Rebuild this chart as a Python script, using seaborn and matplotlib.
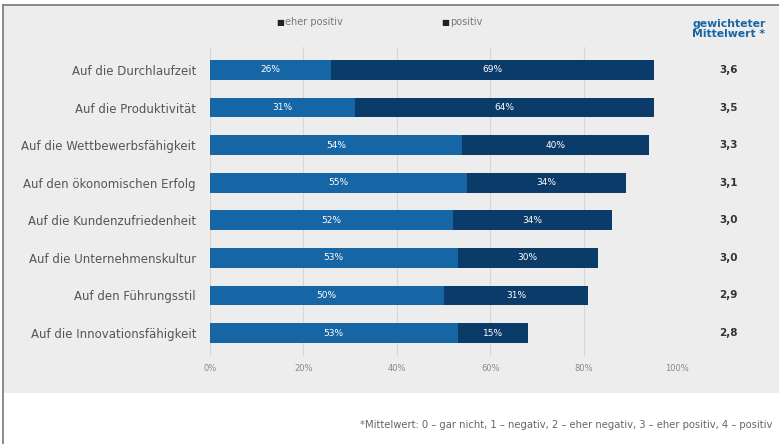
import matplotlib
matplotlib.use("Agg")
import matplotlib.pyplot as plt
import seaborn as sns
import pandas as pd
from matplotlib.patches import Rectangle
from matplotlib.lines import Line2D

categories = ["Auf die Durchlaufzeit", "Auf die Produktivität", "Auf die Wettbewerbsfähigkeit",
              "Auf den ökonomischen Erfolg", "Auf die Kundenzufriedenheit",
              "Auf die Unternehmenskultur", "Auf den Führungsstil", "Auf die Innovationsfähigkeit"]
eher_positiv = [26, 31, 54, 55, 52, 53, 50, 53]
positiv = [69, 64, 40, 34, 34, 30, 31, 15]
mittelwert = ["3,6", "3,5", "3,3", "3,1", "3,0", "3,0", "2,9", "2,8"]
xticks = [0, 20, 40, 60, 80, 100]
xticklabels = ["0%", "20%", "40%", "60%", "80%", "100%"]

LIGHT = "#1666a6"
DARK = "#0b3c69"

sns.set_theme(style="white")
plt.rcParams['font.family'] = ['DejaVu Sans']

df = pd.DataFrame({"cat": categories, "eher": eher_positiv, "pos": positiv})
df["total"] = df["eher"] + df["pos"]

fig = plt.figure(figsize=(7.79, 4.44), dpi=100, facecolor="white")
W, H = 779, 444
# gray panel
fig.patches.append(Rectangle((3 / W, 1 - 393 / H), 1 - 3 / W, (393 - 5) / H,
                             transform=fig.transFigure, facecolor="#ededed",
                             edgecolor="none", zorder=-10))
fig.lines.append(Line2D([3 / W, 3 / W], [0, 1 - 5 / H], transform=fig.transFigure,
                        color="#777777", lw=1.2, zorder=-5))
fig.lines.append(Line2D([3 / W, 1], [1 - 5 / H, 1 - 5 / H], transform=fig.transFigure,
                        color="#777777", lw=1.2, zorder=-5))

left = 210 / W
width = (677 - 210) / W
top_px, bot_px = 47.4, 355.6
ax = fig.add_axes([left, 1 - bot_px / H, width, (bot_px - top_px) / H])
ax.set_facecolor("none")
ax.set_zorder(1)

for xt in xticks:
    ax.axvline(xt, color="#d6d6d6", lw=0.8, zorder=0)

sns.barplot(data=df, x="total", y="cat", color=DARK, width=0.53, ax=ax,
            orient="h", saturation=1, zorder=2, edgecolor="none", linewidth=0)
sns.barplot(data=df, x="eher", y="cat", color=LIGHT, width=0.53, ax=ax,
            orient="h", saturation=1, zorder=3, edgecolor="none", linewidth=0)

for i, (e, p) in enumerate(zip(eher_positiv, positiv)):
    ax.text(e / 2, i, f"{e}%", ha="center", va="center", color="white", fontsize=6.5, zorder=4)
    ax.text(e + p / 2, i, f"{p}%", ha="center", va="center", color="white", fontsize=6.5, zorder=4)
    ax.text(1.11, i, mittelwert[i], transform=ax.get_yaxis_transform(), ha="center",
            va="center", color="#333333", fontsize=7.5, fontweight="bold")

ax.set_xlim(0, 100)
ax.set_ylim(7.6, -0.6)
ax.set_xticks(xticks)
ax.set_xticklabels(xticklabels, color="#888888", fontsize=6)
ax.tick_params(axis="x", length=0, pad=6)
ax.tick_params(axis="y", length=0, pad=10, labelsize=8.5, labelcolor="#555555")
ax.set_xlabel("")
ax.set_ylabel("")
for s in ax.spines.values():
    s.set_visible(False)

# legend
fig.text(276 / W, 1 - 22 / H, "■", color="#222222", fontsize=6, va="center")
fig.text(285 / W, 1 - 22 / H, "eher positiv", color="#777777", fontsize=7, va="center")
fig.text(441 / W, 1 - 22 / H, "■", color="#222222", fontsize=6, va="center")
fig.text(450 / W, 1 - 22 / H, "positiv", color="#777777", fontsize=7, va="center")

# header
fig.text(729 / W, 1 - 29 / H, "gewichteter\nMittelwert *", color=LIGHT, fontsize=7.8,
         fontweight="bold", ha="center", va="center", linespacing=1.1)

# footnote
fig.text(772 / W, 1 - 425 / H,
         "*Mittelwert: 0 – gar nicht, 1 – negativ, 2 – eher negativ, 3 – eher positiv, 4 – positiv",
         color="#666666", fontsize=7.2, va="center", ha="right")

fig.savefig("out.png", dpi=100, facecolor="white")
